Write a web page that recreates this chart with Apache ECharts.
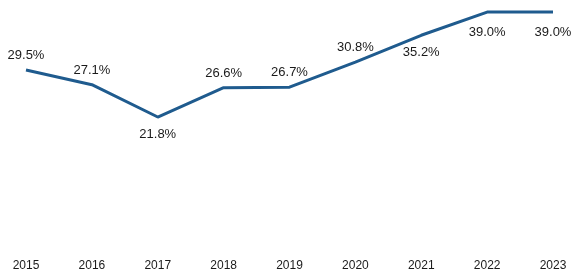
<!DOCTYPE html>
<html>
<head>
<meta charset="utf-8">
<script src="https://cdn.jsdelivr.net/npm/echarts@6/dist/echarts.min.js"></script>
<style>html,body{margin:0;padding:0;background:#fff}#c{width:581px;height:273px}</style>
</head>
<body>
<div id="c"></div>
<script>
var years = ['2015','2016','2017','2018','2019','2020','2021','2022','2023'];
var shares = [29.5, 27.1, 21.8, 26.6, 26.7, 30.8, 35.2, 39.0, 39.0];
var labelSide = ['top','top','bottom','top','top','top','bottom','bottom','bottom'];

var chart = echarts.init(document.getElementById('c'), null, {renderer:'canvas'});
var data = shares.map(function(v, i){
  return {
    value: v,
    label: {
      position: labelSide[i],
      distance: labelSide[i] === 'top' ? 8 : (i >= 7 ? 14 : 11)
    }
  };
});
chart.setOption({
  animation: false,
  backgroundColor: '#ffffff',
  grid: {left: 26, right: 28, top: 6, bottom: 23, containLabel: false},
  xAxis: {
    type: 'category',
    data: years,
    boundaryGap: false,
    axisLine: {show: false},
    axisTick: {show: false},
    axisLabel: {color: '#1a1a1a', fontSize: 12, fontFamily: 'Liberation Sans, Arial, sans-serif', margin: 10}
  },
  yAxis: {
    type: 'value', min: 0, max: 40, show: false,
    splitLine: {show: false}
  },
  series: [{
    type: 'line',
    data: data,
    symbol: 'circle',
    symbolSize: 0,
    showSymbol: true,
    lineStyle: {color: '#1f5b8e', width: 3},
    itemStyle: {color: '#1f5b8e'},
    label: {
      show: true,
      color: '#1a1a1a',
      fontSize: 13,
      fontFamily: 'Liberation Sans, Arial, sans-serif',
      formatter: function(p){ return p.value.toFixed(1) + '%'; }
    }
  }]
});
</script>
</body>
</html>
